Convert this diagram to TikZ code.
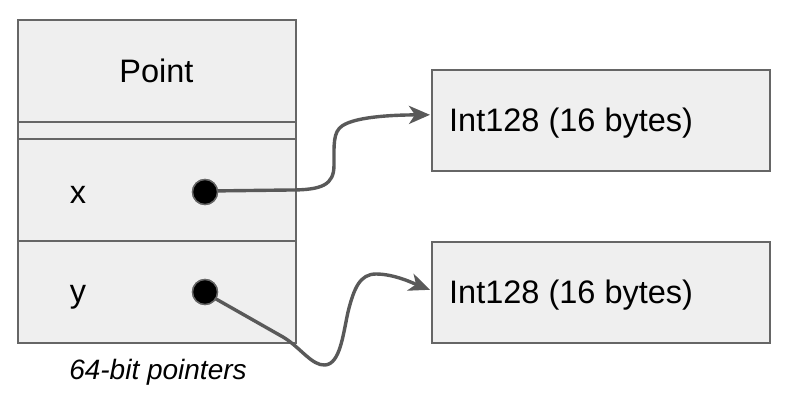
\documentclass[tikz,border=0pt]{standalone}
\usepackage{fontspec}
\setmainfont{Liberation Sans}
\usetikzlibrary{arrows.meta}
\definecolor{boxfill}{HTML}{EFEFEF}
\definecolor{boxline}{HTML}{666666}
\definecolor{wire}{HTML}{595959}
\begin{document}
\begin{tikzpicture}[x=1pt,y=-1pt,
  cell/.style={draw=boxline, fill=boxfill, line width=1.6pt, minimum width=278pt, inner sep=0pt, anchor=north west},
  intbox/.style={draw=boxline, fill=boxfill, line width=1.6pt, minimum width=338pt, minimum height=101pt, inner sep=0pt, anchor=north west},
  lbl/.style={inner sep=0pt, font=\fontsize{32.5}{38}\selectfont},
  capt/.style={inner sep=0pt, font=\fontsize{28}{33}\selectfont\itshape},
  ptrdot/.style={circle, fill=black, draw=boxline, line width=1.4pt, minimum size=25pt, inner sep=0pt},
  wirearrow/.style={draw=wire, line width=3.4pt, -{Stealth[length=21pt, width=18pt, inset=6pt]}}]
\useasboundingbox (0,0) rectangle (787,402);
% left structure
\node[cell, minimum height=102pt] (head) at (17,19) {};
\node[cell, minimum height=17pt] (gap) at (17,121) {};
\node[cell, minimum height=102pt] (xcell) at (17,138) {};
\node[cell, minimum height=102pt] (ycell) at (17,240) {};
\node[lbl, anchor=base] (ptxt) at (156.5,82) {Point};
\node[lbl, anchor=base] (xtxt) at (78,203) {x};
\node[lbl, anchor=base] (ytxt) at (78,302) {y};
\node[capt, anchor=base] (captxt) at (158,379.5) {64-bit pointers};
% right boxes
\node[intbox] (ia) at (431,69) {};
\node[intbox] (ib) at (431,241) {};
\node[lbl, anchor=base west] (iatxt) at (449,131) {Int128 (16 bytes)};
\node[lbl, anchor=base west] (ibtxt) at (449,303) {Int128 (16 bytes)};
% dots
\node[ptrdot] (dx) at (205,192) {};
\node[ptrdot] (dy) at (205,292) {};
% connectors
\path[wirearrow] ([shift={(4,-1)}]dx.center) -- (290,190) .. controls (322,190) and (334,185) .. (334,165)
  .. controls (334,145) and (333,132) .. (342,126)
  .. controls (355,117) and (390,115) .. ([shift={(-1,-5.5)}]ia.west);
\path[wirearrow] ([shift={(4,3)}]dy.center) -- (283,337) .. controls (300,347) and (312,366) .. (325,365)
  .. controls (340,364) and (343,335) .. (348,312)
  .. controls (354,288) and (360,274) .. (376,274)
  .. controls (395,274) and (415,284) .. ([shift={(-1,-2.5)}]ib.west);
% redraw dots on top
\node[ptrdot] at (dx.center) {};
\node[ptrdot] at (dy.center) {};
\end{tikzpicture}
\end{document}
